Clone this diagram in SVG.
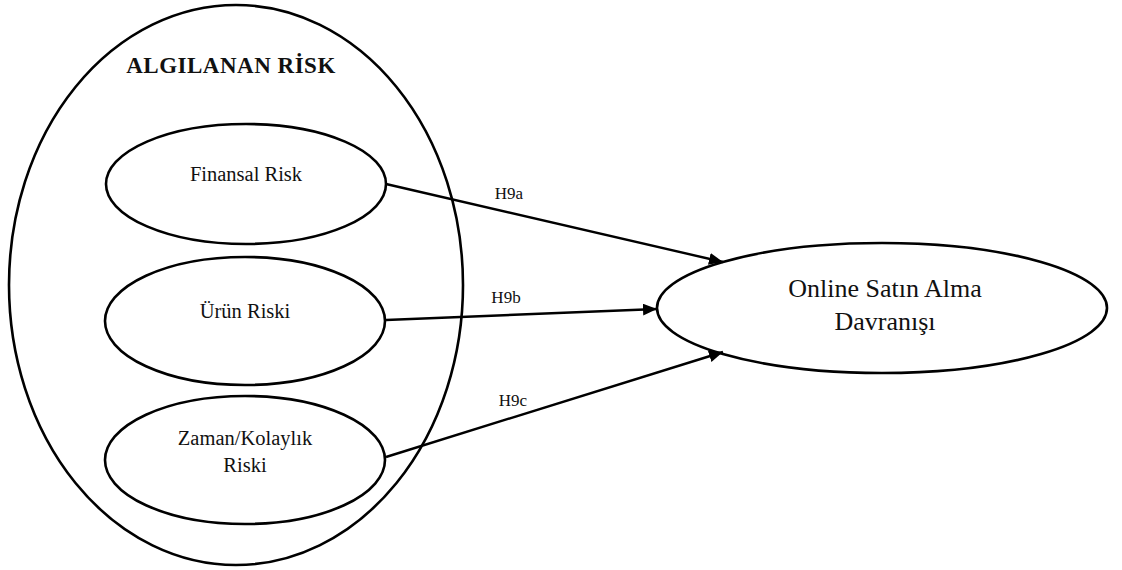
<svg xmlns="http://www.w3.org/2000/svg" width="1122" height="570" viewBox="0 0 1122 570">
  <defs>
    <marker id="arrow" viewBox="0 0 14 12" refX="14" refY="6" markerWidth="14" markerHeight="12" markerUnits="userSpaceOnUse" orient="auto">
      <path d="M0,0 L14,6 L0,12 Z" fill="#000"/>
    </marker>
    <style>
      .shape { fill: none; stroke: #000; stroke-width: 2.6; }
      .lbl { font-family: "Liberation Serif", "Times New Roman", serif; fill: #111; text-anchor: middle; }
      .edge { stroke: #000; stroke-width: 2.4; fill: none; marker-end: url(#arrow); }
    </style>
  </defs>
  <rect width="1122" height="570" fill="#fff"/>

  <g id="algilanan-risk">
    <ellipse class="shape" cx="236" cy="285" rx="227" ry="280"/>
    <text class="lbl" x="231" y="73" font-size="23" font-weight="bold" letter-spacing="0.5">ALGILANAN RİSK</text>
  </g>

  <g id="finansal-risk">
    <ellipse class="shape" cx="246" cy="184" rx="140" ry="60"/>
    <text class="lbl" x="246" y="181" font-size="20.5">Finansal Risk</text>
  </g>

  <g id="urun-riski">
    <ellipse class="shape" cx="245" cy="321" rx="140" ry="64"/>
    <text class="lbl" x="245" y="318" font-size="20.5">Ürün Riski</text>
  </g>

  <g id="zaman-kolaylik-riski">
    <ellipse class="shape" cx="245" cy="460" rx="140" ry="64"/>
    <text class="lbl" x="245" y="445" font-size="20.5">Zaman/Kolaylık</text>
    <text class="lbl" x="245" y="472" font-size="20.5">Riski</text>
  </g>

  <g id="online-satin-alma">
    <ellipse class="shape" cx="882" cy="308" rx="225" ry="65"/>
    <text class="lbl" x="885" y="297" font-size="26">Online Satın Alma</text>
    <text class="lbl" x="885" y="330" font-size="26">Davranışı</text>
  </g>

  <g id="connectors">
    <line class="edge" x1="386" y1="184" x2="723" y2="262"/>
    <line class="edge" x1="386" y1="320" x2="657" y2="309"/>
    <line class="edge" x1="386" y1="457" x2="723" y2="352"/>
    <text class="lbl" x="509" y="199" font-size="17">H9a</text>
    <text class="lbl" x="506" y="303" font-size="17">H9b</text>
    <text class="lbl" x="513" y="406" font-size="17">H9c</text>
  </g>
</svg>
